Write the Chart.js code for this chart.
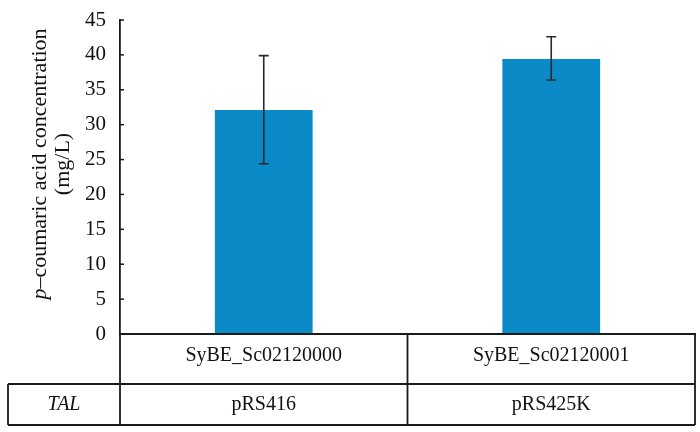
<!DOCTYPE html>
<html>
<head>
<meta charset="utf-8">
<script src="https://cdn.jsdelivr.net/npm/chart.js@4.4.1/dist/chart.umd.min.js"></script>
<style>
  html, body { margin: 0; padding: 0; background: #fff; }
  #wrap { width: 700px; height: 432px; }
</style>
</head>
<body>
<div id="wrap"><canvas id="c" width="700" height="432"></canvas></div>
<script>
const categories = ['SyBE_Sc02120000', 'SyBE_Sc02120001'];
const plasmids = ['pRS416', 'pRS425K'];
const rowLabel = 'TAL';
const values = [32.1, 39.4];
const errLow = [24.4, 36.4];
const errHigh = [39.9, 42.6];
const yTicks = [0, 5, 10, 15, 20, 25, 30, 35, 40, 45];

const FONT = '"Liberation Serif", "Times New Roman", serif';
const LINE = '#1a1a1a';

const extras = {
  id: 'extras',
  afterDatasetsDraw(chart) {
    const ctx = chart.ctx;
    const x = chart.scales.x, y = chart.scales.y;
    const area = chart.chartArea;
    ctx.save();
    ctx.strokeStyle = '#2a2a2a';
    ctx.lineWidth = 1.6;
    values.forEach((v, i) => {
      const cx = x.getPixelForValue(i);
      const yl = y.getPixelForValue(errLow[i]);
      const yh = y.getPixelForValue(errHigh[i]);
      ctx.beginPath();
      ctx.moveTo(cx, yl); ctx.lineTo(cx, yh);
      ctx.moveTo(cx - 5, yl); ctx.lineTo(cx + 5, yl);
      ctx.moveTo(cx - 5, yh); ctx.lineTo(cx + 5, yh);
      ctx.stroke();
    });
    ctx.strokeStyle = LINE;
    ctx.lineWidth = 1.5;
    yTicks.forEach(t => {
      const py = y.getPixelForValue(t);
      ctx.beginPath();
      ctx.moveTo(area.left, py); ctx.lineTo(area.left + 4, py);
      ctx.stroke();
    });
    ctx.restore();
  },
  afterDraw(chart) {
    const ctx = chart.ctx;
    const x = chart.scales.x;
    const area = chart.chartArea;
    const top = area.bottom;
    const mid = top + 50;
    const bot = top + 91;
    const farLeft = 8;
    const midX = (x.getPixelForValue(0) + x.getPixelForValue(1)) / 2;
    ctx.save();
    ctx.strokeStyle = LINE;
    ctx.lineWidth = 1.8;
    ctx.beginPath();
    ctx.moveTo(area.left, top); ctx.lineTo(area.left, bot);
    ctx.moveTo(midX, top); ctx.lineTo(midX, bot);
    ctx.moveTo(area.right, top); ctx.lineTo(area.right, bot);
    ctx.moveTo(farLeft, mid); ctx.lineTo(farLeft, bot);
    ctx.moveTo(area.left, top); ctx.lineTo(area.right, top);
    ctx.moveTo(farLeft, mid); ctx.lineTo(area.right, mid);
    ctx.moveTo(farLeft, bot); ctx.lineTo(area.right, bot);
    ctx.stroke();

    ctx.fillStyle = '#111';
    ctx.textAlign = 'center';
    ctx.textBaseline = 'middle';
    ctx.font = '20px ' + FONT;
    categories.forEach((c, i) => ctx.fillText(c, x.getPixelForValue(i), top + 22));
    plasmids.forEach((p, i) => ctx.fillText(p, x.getPixelForValue(i), mid + 21));
    ctx.font = 'italic 20px ' + FONT;
    ctx.fillText(rowLabel, (farLeft + area.left) / 2, mid + 21);

    const cy = 164;
    ctx.translate(40, cy);
    ctx.rotate(-Math.PI / 2);
    const fs = 22;
    const pPart = 'p';
    const rest = '\u2013coumaric acid concentration';
    ctx.font = 'italic ' + fs + 'px ' + FONT;
    const wp = ctx.measureText(pPart).width;
    ctx.font = fs + 'px ' + FONT;
    const wr = ctx.measureText(rest).width;
    const total = wp + wr;
    ctx.textAlign = 'left';
    ctx.font = 'italic ' + fs + 'px ' + FONT;
    ctx.fillText(pPart, -total / 2, 0);
    ctx.font = fs + 'px ' + FONT;
    ctx.fillText(rest, -total / 2 + wp, 0);
    ctx.textAlign = 'center';
    ctx.fillText('(mg/L)', 0, 23);
    ctx.restore();
  }
};

new Chart(document.getElementById('c'), {
  type: 'bar',
  data: {
    labels: categories,
    datasets: [{
      data: values,
      backgroundColor: '#0a8ac7',
      borderWidth: 0,
      barPercentage: 0.34,
      categoryPercentage: 1.0
    }]
  },
  options: {
    responsive: false,
    animation: false,
    devicePixelRatio: 1,
    layout: { padding: { top: 20, right: 5, left: 0, bottom: 0 } },
    plugins: { legend: { display: false }, tooltip: { enabled: false } },
    scales: {
      x: {
        ticks: { display: false },
        grid: { display: false, drawTicks: false },
        border: { display: true, color: LINE, width: 1.8 },
        afterFit(s) { s.height = 98; s.paddingLeft = 0; s.paddingRight = 0; }
      },
      y: {
        min: 0, max: 45,
        afterBuildTicks(s) { s.ticks = yTicks.map(v => ({ value: v })); },
        ticks: {
          padding: 14,
          color: '#111',
          font: { family: FONT, size: 21 }
        },
        grid: { display: false, drawTicks: false },
        border: { display: true, color: LINE, width: 1.8 },
        afterFit(s) { s.width = 120; s.paddingTop = 0; s.paddingBottom = 0; }
      }
    }
  },
  plugins: [extras]
});
</script>
</body>
</html>
